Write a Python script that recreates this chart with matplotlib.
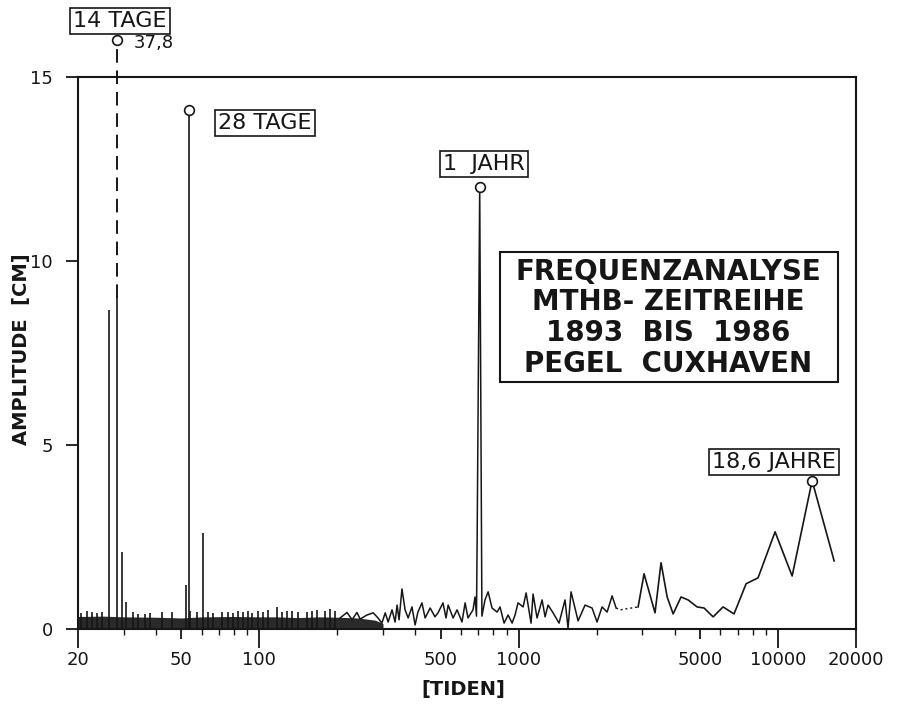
import matplotlib
matplotlib.use('Agg')
import matplotlib.pyplot as plt
from matplotlib.patches import Rectangle

# periods in tides, amplitudes in cm

# dense low-level band (upper envelope), 20 .. 300 tides
band_x = [20, 25, 30, 40, 50, 60, 80, 100, 117, 140, 170, 200, 240, 280, 300]
band_y = [0.34, 0.35, 0.33, 0.32, 0.30, 0.33, 0.34, 0.33, 0.33, 0.31, 0.33, 0.32, 0.30, 0.24, 0.15]

# small spikes on top of the band
spike_x = [20.5, 21.7, 22.6, 23.7, 24.8, 30.6, 32.6, 34.1, 36.3, 37.9, 42.2, 46.1,
           52.2, 54.1, 57.5, 63.4, 66.3, 71.8, 75.8, 79.2, 82.8, 86.6, 90.5, 93.8,
           98.9, 103.4, 108.1, 117.1, 122.4, 128.0, 133.7, 141.1, 152.8, 159.7,
           167.0, 179.3, 187.4, 195.9]
spike_y = [0.44, 0.49, 0.45, 0.44, 0.45, 0.73, 0.45, 0.42, 0.40, 0.44, 0.45, 0.45,
           1.20, 0.48, 0.45, 0.47, 0.44, 0.45, 0.47, 0.44, 0.48, 0.45, 0.50, 0.44,
           0.50, 0.47, 0.52, 0.60, 0.45, 0.48, 0.50, 0.46, 0.45, 0.50,
           0.52, 0.48, 0.55, 0.50]

# isolated lines
line_x = [26.3, 29.6, 60.7]
line_y = [8.66, 2.10, 2.60]

# labelled peaks
p14_x, p14_y = 28.3, 37.8
p28_x, p28_y = 53.4, 14.09

# spectrum line 205 .. 2377 tides
mid_x = [205, 218, 228, 238, 245, 260, 275, 287, 297, 306, 314, 325, 334, 340, 346,
         355, 365, 375, 388, 399, 409, 424, 436, 456, 476, 489, 511, 525, 535, 559,
         579, 605, 622, 638, 667, 679, 688, 692, 708, 722, 742, 763, 790, 826, 848,
         879, 911, 944, 969, 995, 1041, 1069, 1117, 1137, 1178, 1232, 1265, 1299,
         1358, 1432, 1510, 1551, 1593, 1696, 1804, 1920, 2007, 2098, 2194, 2294, 2377]
mid_y = [0.30, 0.45, 0.25, 0.45, 0.27, 0.38, 0.44, 0.30, 0.16, 0.44, 0.19, 0.52, 0.19,
         0.65, 0.25, 1.09, 0.52, 0.30, 0.60, 0.11, 0.46, 0.71, 0.30, 0.57, 0.33, 0.44,
         0.71, 0.30, 0.65, 0.30, 0.52, 0.19, 0.71, 0.30, 0.52, 0.87, 0.35, 2.40, 12.0,
         0.35, 0.79, 1.01, 0.57, 0.46, 0.60, 0.16, 0.38, 0.16, 0.38, 0.71, 0.60, 0.98,
         0.16, 0.95, 0.30, 0.79, 0.33, 0.65, 0.44, 0.16, 0.79, 0.03, 1.01, 0.22, 0.65,
         0.57, 0.19, 0.60, 0.46, 0.90, 0.57]

# gap (dotted) and long periods
gap_x = [2377, 2462, 2890]
gap_y = [0.57, 0.52, 0.60]
long_x = [2890, 3046, 3358, 3542, 3740, 3944, 4230, 4505, 4878, 5190, 5624, 6144,
          6772, 7538, 8382, 9750, 11344, 13546, 16472]
long_y = [0.60, 1.50, 0.44, 1.80, 0.87, 0.41, 0.87, 0.79, 0.60, 0.57, 0.33, 0.60,
          0.41, 1.23, 1.39, 2.64, 1.44, 4.03, 1.85]

pyr_x, pyr_y = 708, 12.0
p186_x, p186_y = 13546, 4.03

xticks = [20, 50, 100, 500, 1000, 5000, 10000, 20000]
xticklabels = ['20', '50', '100', '500', '1000', '5000', '10000', '20000']
long_ticks = [20, 100, 1000, 10000, 20000]
minor_ticks = [30, 40, 60, 70, 80, 90, 200, 300, 400, 600, 700, 800, 900,
               2000, 3000, 4000, 6000, 7000, 8000, 9000]
yticks = [0, 5, 10, 15]

info_lines = ['FREQUENZANALYSE', 'MTHB- ZEITREIHE', '1893  BIS  1986', 'PEGEL  CUXHAVEN']

plt.rcParams['font.family'] = ['DejaVu Sans']
ink = '#161616'
W, H = 899, 711

fig = plt.figure(figsize=(W / 100, H / 100), dpi=100)
ax = fig.add_axes([78 / W, 82 / H, 778 / W, 552 / H])
ax.set_xscale('log')
ax.set_xlim(20, 20000)
ax.set_ylim(0, 15)

# dense band and spikes
ax.fill_between(band_x, 0, band_y, color='#2a2a2a', lw=0)
ax.vlines(spike_x, 0, spike_y, color=ink, lw=1.2)
ax.vlines(line_x, 0, line_y, color=ink, lw=1.2)

# 28 TAGE
ax.vlines([p28_x], 0, [p28_y], color=ink, lw=1.2)
ax.plot([p28_x], [p28_y], 'o', ms=7, mfc='white', mec=ink, mew=1.2, zorder=5)

# 14 TAGE: solid bottom part, dashed above, off-scale marker
ax.vlines([p14_x], 0, [9.0], color=ink, lw=1.2)
ax.plot([p14_x, p14_x], [9.0, 15.85], color=ink, lw=1.4, ls=(0, (7, 4)), clip_on=False)
ax.plot([p14_x], [16.0], 'o', ms=7, mfc='white', mec=ink, mew=1.2, clip_on=False, zorder=5)

# spectrum lines
ax.plot(mid_x, mid_y, color=ink, lw=1.1)
ax.plot(gap_x, gap_y, color=ink, lw=1.0, ls=(0, (1.5, 2)))
ax.plot(long_x, long_y, color=ink, lw=1.2)
ax.plot([pyr_x, p186_x], [pyr_y, p186_y], 'o', ms=7, mfc='white', mec=ink, mew=1.2,
        ls='none', zorder=5)

# axes styling
for s in ax.spines.values():
    s.set_linewidth(1.5)
    s.set_color(ink)
ax.set_xticks(xticks)
ax.set_xticklabels(xticklabels)
ax.set_xticks(minor_ticks, minor=True)
ax.xaxis.set_minor_formatter(plt.NullFormatter())
ax.set_yticks(yticks)
ax.tick_params(axis='x', which='major', direction='out', length=7, width=1.3,
               pad=9, labelsize=13, colors=ink)
ax.tick_params(axis='x', which='minor', direction='out', length=4, width=1.0, colors=ink)
ax.tick_params(axis='y', direction='out', length=9, width=1.3, pad=9,
               labelsize=13, colors=ink)
for t, v in zip(ax.xaxis.get_major_ticks(), xticks):
    if v in long_ticks:
        t.tick1line.set_markersize(14)

# labels
fig.text(22 / W, 1 - 349 / H, 'AMPLITUDE  [CM]', rotation=90, ha='center', va='center',
         fontsize=14, fontweight='bold', color=ink)
fig.text(463 / W, 1 - 690 / H, '[TIDEN]', ha='center', va='center',
         fontsize=14, fontweight='bold', color=ink)

box = dict(boxstyle='square,pad=0.15', fc='white', ec=ink, lw=1.2)
fig.text(120 / W, 1 - 21 / H, '14 TAGE', ha='center', va='center', fontsize=16,
         color=ink, bbox=box)
fig.text(134 / W, 1 - 43 / H, '37,8', ha='left', va='center', fontsize=13, color=ink)
fig.text(265 / W, 1 - 123 / H, '28 TAGE', ha='center', va='center', fontsize=16,
         color=ink, bbox=box)
fig.text(484 / W, 1 - 164 / H, '1  JAHR', ha='center', va='center', fontsize=16,
         color=ink, bbox=box)
fig.text(774 / W, 1 - 462 / H, '18,6 JAHRE', ha='center', va='center', fontsize=16,
         color=ink, bbox=box)

# info box
fig.patches.append(Rectangle((500 / W, 1 - 382 / H), 338 / W, 130 / H,
                             transform=fig.transFigure, fill=False, ec=ink, lw=1.5))
for i, txt in enumerate(info_lines):
    fig.text(668 / W, 1 - (272 + 30.5 * i) / H, txt, ha='center', va='center',
             fontsize=20, fontweight='bold', color=ink)

fig.savefig('out.png', dpi=100, facecolor='white')
